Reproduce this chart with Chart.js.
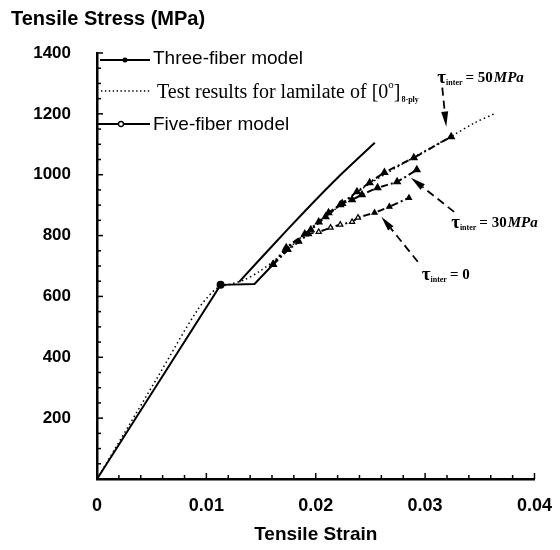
<!DOCTYPE html>
<html>
<head>
<meta charset="utf-8">
<script src="https://cdn.jsdelivr.net/npm/chart.js@4.4.1/dist/chart.umd.min.js"></script>
<style>
  body { margin: 0; background: #fff; }
  #grafico { display: block; }
</style>
</head>
<body>
<canvas id="grafico" width="560" height="550"></canvas>
<script>
// elastic part + plateau (three-fiber model)
const baseStrain = [0, 0.0113, 0.0144, 0.0161];
const baseStress = [0, 638, 641, 705];

// five-fiber model, no interface shear
const fiveStrain = [0.0130, 0.0160, 0.0190, 0.0220, 0.0254];
const fiveStress = [648, 765, 880, 990, 1105];

// model curves for each interface strength
const tau50Strain = [0.0161, 0.0173, 0.01955, 0.0209, 0.02224, 0.02377, 0.02493, 0.02628, 0.02897, 0.03238];
const tau50Stress = [705, 760, 819, 862, 901, 944, 974, 1007, 1056, 1125];

const tau30Strain = [0.0161, 0.0173, 0.0190, 0.02027, 0.02117, 0.02242, 0.02332, 0.02422, 0.02565, 0.02744, 0.02924];
const tau30Stress = [705, 755, 805, 845, 875, 905, 918, 934, 957, 977, 1016];

const tau0Strain = [0.0161, 0.01749, 0.01848, 0.01937, 0.02027, 0.02135, 0.02224, 0.02332, 0.02386, 0.02538, 0.02673, 0.02852];
const tau0Stress = [705, 753, 780, 805, 812, 826, 836, 845, 859, 875, 895, 924];

// test results, [0]8-ply laminate
const testStrain = [0, 0.0054, 0.0092, 0.0110, 0.0122, 0.0135, 0.0148, 0.0160, 0.0175, 0.0190, 0.0205, 0.0220, 0.0235, 0.0250, 0.0265, 0.0280, 0.0295, 0.0310, 0.0326, 0.0345, 0.0365];
const testStress = [0, 326, 556, 628, 640, 655, 681, 712, 757, 805, 850, 893, 935, 972, 1005, 1037, 1068, 1098, 1130, 1170, 1203];

const xTicks = [0, 0.01, 0.02, 0.03, 0.04];
const yTicks = [200, 400, 600, 800, 1000, 1200, 1400];

// labels with arrows: text position, arrow tail, arrow tip (strain, stress)
const notas = [
  { txt: "50", mpa: true, x: 0.03112, y: 1319, tail: [0.03157, 1286], tip: [0.03193, 1158] },
  { txt: "30", mpa: true, x: 0.03238, y: 842, tail: [0.03265, 878], tip: [0.0287, 990] },
  { txt: "0", mpa: false, x: 0.02969, y: 671, tail: [0.02933, 714], tip: [0.0260, 862] }
];

function pares(xs, ys) {
  return xs.map((x, i) => ({ x: x, y: ys[i] }));
}

const sans = "'Liberation Sans', Arial, sans-serif";
const serif = "'Liberation Serif', 'Times New Roman', serif";

// open triangles on part of the lower curve
const tau0Fill = tau0Strain.map((x, i) => (i >= 4 && i <= 8) ? "#fff" : "#000");

const datos = {
  datasets: [
    {
      label: "Test results",
      data: pares(testStrain, testStress),
      borderColor: "#000",
      borderWidth: 1.5,
      borderDash: [1.5, 3],
      pointRadius: 0,
      tension: 0.3
    },
    {
      label: "Three-fiber model",
      data: pares(baseStrain, baseStress),
      borderColor: "#000",
      borderWidth: 2,
      pointRadius: [0, 3, 0, 0],
      pointBackgroundColor: "#000",
      pointBorderColor: "#000",
      tension: 0
    },
    {
      label: "Five-fiber model",
      data: pares(fiveStrain, fiveStress),
      borderColor: "#000",
      borderWidth: 2,
      pointRadius: 0,
      tension: 0.2
    },
    {
      label: "tau 50",
      data: pares(tau50Strain, tau50Stress),
      borderColor: "#000",
      borderWidth: 2,
      borderDash: [7, 3, 2, 3],
      pointStyle: "triangle",
      pointRadius: 3,
      pointBackgroundColor: "#000",
      pointBorderColor: "#000",
      tension: 0.2
    },
    {
      label: "tau 30",
      data: pares(tau30Strain, tau30Stress),
      borderColor: "#000",
      borderWidth: 2,
      borderDash: [7, 3, 2, 3],
      pointStyle: "triangle",
      pointRadius: 3,
      pointBackgroundColor: "#000",
      pointBorderColor: "#000",
      tension: 0.2
    },
    {
      label: "tau 0",
      data: pares(tau0Strain, tau0Stress),
      borderColor: "#000",
      borderWidth: 2,
      borderDash: [7, 3, 2, 3],
      pointStyle: "triangle",
      pointRadius: 3,
      pointBackgroundColor: tau0Fill,
      pointBorderColor: "#000",
      pointBorderWidth: 1.2,
      tension: 0.2
    }
  ]
};

// small ticks pointing into the plot
const marcas = {
  id: "marcas",
  afterDraw(chart) {
    const ctx = chart.ctx;
    const x = chart.scales.x, y = chart.scales.y;
    const a = chart.chartArea;
    ctx.save();
    ctx.strokeStyle = "#000";
    ctx.lineWidth = 1.5;
    for (let k = 0; k <= 20; k++) {
      const px = x.getPixelForValue(k * 0.002);
      const largo = k % 5 === 0 ? 6 : 4;
      ctx.beginPath();
      ctx.moveTo(px, a.bottom);
      ctx.lineTo(px, a.bottom - largo);
      ctx.stroke();
    }
    for (let k = 0; k <= 28; k++) {
      const py = y.getPixelForValue(k * 50);
      const largo = k % 4 === 0 ? 6 : 4;
      ctx.beginPath();
      ctx.moveTo(a.left, py);
      ctx.lineTo(a.left + largo, py);
      ctx.stroke();
    }
    ctx.restore();
  }
};

// y title, legend and the tau labels
const textos = {
  id: "textos",
  afterDraw(chart) {
    const ctx = chart.ctx;
    const sx = chart.scales.x, sy = chart.scales.y;
    const a = chart.chartArea;
    ctx.save();
    ctx.fillStyle = "#000";
    ctx.strokeStyle = "#000";
    ctx.textBaseline = "middle";

    ctx.font = "bold 20px " + sans;
    ctx.fillText("Tensile Stress (MPa)", 11, 19);

    // legend
    const l0 = a.left + 3;
    ctx.lineWidth = 2;
    ctx.beginPath();
    ctx.moveTo(l0, 60); ctx.lineTo(l0 + 50, 60);
    ctx.stroke();
    ctx.beginPath();
    ctx.arc(l0 + 25, 60, 2.5, 0, Math.PI * 2);
    ctx.fill();
    ctx.font = "19px " + sans;
    ctx.fillText("Three-fiber model", l0 + 53, 59);

    ctx.lineWidth = 1.4;
    ctx.setLineDash([1.4, 2.5]);
    ctx.beginPath();
    ctx.moveTo(l0 + 1, 91); ctx.lineTo(l0 + 50, 91);
    ctx.stroke();
    ctx.setLineDash([]);
    ctx.font = "20px " + serif;
    const t2 = "Test results for lamilate of [0";
    ctx.fillText(t2, l0 + 57, 93);
    let w = ctx.measureText(t2).width;
    ctx.font = "11px " + serif;
    ctx.fillText("o", l0 + 57 + w, 85);
    const wo = ctx.measureText("o").width;
    ctx.font = "20px " + serif;
    ctx.fillText("]", l0 + 57 + w + wo, 93);
    const wc = ctx.measureText("]").width;
    ctx.font = "bold 8px " + serif;
    ctx.fillText("8-ply", l0 + 58 + w + wo + wc, 100);

    ctx.lineWidth = 2;
    ctx.beginPath();
    ctx.moveTo(a.left, 124); ctx.lineTo(l0 + 50, 124);
    ctx.stroke();
    ctx.fillStyle = "#fff";
    ctx.lineWidth = 1.3;
    ctx.beginPath();
    ctx.arc(l0 + 21, 124, 2.5, 0, Math.PI * 2);
    ctx.fill(); ctx.stroke();
    ctx.fillStyle = "#000";
    ctx.font = "19px " + sans;
    ctx.fillText("Five-fiber model", l0 + 53, 125);

    // tau labels with dashed arrows
    notas.forEach(n => {
      let px = sx.getPixelForValue(n.x);
      const py = sy.getPixelForValue(n.y);
      ctx.font = "bold 19px " + serif;
      ctx.fillText("\u03c4", px, py);
      px += ctx.measureText("\u03c4").width;
      ctx.font = "bold 8px " + serif;
      ctx.fillText("inter", px, py + 5);
      px += ctx.measureText("inter").width + 3;
      ctx.font = "bold 15px " + serif;
      const val = "= " + n.txt;
      ctx.fillText(val, px, py);
      px += ctx.measureText(val).width + 1;
      if (n.mpa) {
        ctx.font = "italic bold 15px " + serif;
        ctx.fillText("MPa", px, py);
      }

      const x1 = sx.getPixelForValue(n.tail[0]), y1 = sy.getPixelForValue(n.tail[1]);
      const x2 = sx.getPixelForValue(n.tip[0]), y2 = sy.getPixelForValue(n.tip[1]);
      const ang = Math.atan2(y2 - y1, x2 - x1);
      const largo = 15, ancho = 3.5;
      const bx = x2 - largo * Math.cos(ang), by = y2 - largo * Math.sin(ang);
      ctx.lineWidth = 1.8;
      ctx.setLineDash([8, 5]);
      ctx.beginPath();
      ctx.moveTo(x1, y1); ctx.lineTo(bx, by);
      ctx.stroke();
      ctx.setLineDash([]);
      ctx.beginPath();
      ctx.moveTo(x2, y2);
      ctx.lineTo(bx + ancho * Math.sin(ang), by - ancho * Math.cos(ang));
      ctx.lineTo(bx - ancho * Math.sin(ang), by + ancho * Math.cos(ang));
      ctx.closePath();
      ctx.fill();
    });
    ctx.restore();
  }
};

const config = {
  type: "scatter",
  data: datos,
  options: {
    responsive: false,
    animation: false,
    devicePixelRatio: 1,
    showLine: true,
    layout: { padding: { top: 53, right: 17, left: 0, bottom: 4 } },
    plugins: {
      legend: { display: false },
      tooltip: { enabled: false }
    },
    scales: {
      x: {
        type: "linear",
        min: 0,
        max: 0.04,
        afterBuildTicks: s => { s.ticks = xTicks.map(v => ({ value: v })); },
        afterFit: s => { s.height = 67; },
        grid: { display: false },
        border: { display: true, color: "#000", width: 2.5 },
        ticks: {
          color: "#000",
          padding: 8,
          maxRotation: 0,
          autoSkip: false,
          font: { family: sans, size: 18, weight: "bold" },
          callback: v => v === 0 ? "0" : (+v.toFixed(2)).toString()
        },
        title: {
          display: true,
          text: "Tensile Strain",
          color: "#000",
          font: { family: sans, size: 19, weight: "bold" },
          padding: { top: 10, bottom: 0 }
        }
      },
      y: {
        type: "linear",
        min: 0,
        max: 1400,
        afterBuildTicks: s => { s.ticks = yTicks.map(v => ({ value: v })); },
        afterFit: s => { s.width = 97; },
        grid: { display: false },
        border: { display: true, color: "#000", width: 2.5 },
        ticks: {
          color: "#000",
          padding: 18,
          autoSkip: false,
          font: { family: sans, size: 17, weight: "bold" },
          callback: v => String(v)
        }
      }
    }
  },
  plugins: [marcas, textos]
};

new Chart(document.getElementById("grafico").getContext("2d"), config);
</script>
</body>
</html>
